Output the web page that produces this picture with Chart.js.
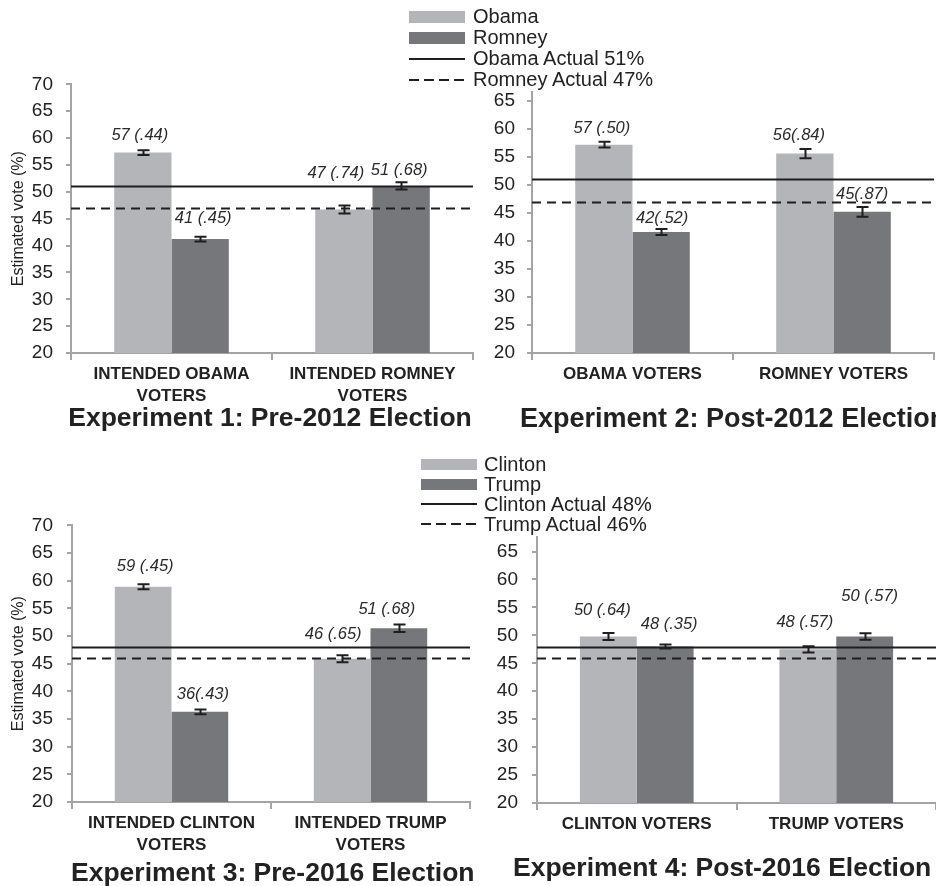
<!DOCTYPE html>
<html>
<head>
<meta charset="utf-8">
<script src="https://cdn.jsdelivr.net/npm/chart.js@4.4.1/dist/chart.umd.min.js"></script>
<style>
  body { margin: 0; background: #fff; }
  #page { position: relative; width: 936px; height: 886px; overflow: hidden;
          font-family: 'Liberation Sans', Arial, sans-serif; color: #222; }
  canvas { position: absolute; }
  .title { position: absolute; font-weight: bold; white-space: nowrap; line-height: 28px; }
  .legend { position: absolute; font-size: 20px; }
  .row { position: relative; white-space: nowrap; }
  .key { position: absolute; left: 0; width: 56px; }
  .row span { position: absolute; }
</style>
</head>
<body>
<div id="page">
  <canvas id="c1" width="480" height="350" style="left:0;top:60px"></canvas>
  <canvas id="c2" width="476" height="350" style="left:460px;top:60px"></canvas>
  <canvas id="c3" width="480" height="358" style="left:0;top:500px"></canvas>
  <canvas id="c4" width="476" height="358" style="left:460px;top:500px"></canvas>

  <div class="title" style="left:68px;width:404px;top:403px;text-align:center;font-size:26.5px">Experiment 1: Pre-2012 Election</div>
  <div class="title" style="left:520px;top:404px;font-size:27px">Experiment 2: Post-2012 Election</div>
  <div class="title" style="left:71px;width:402px;top:858px;text-align:center;font-size:26.5px">Experiment 3: Pre-2016 Election</div>
  <div class="title" style="left:513px;top:853px;font-size:26.5px">Experiment 4: Post-2016 Election</div>

  <div class="legend" id="leg2012" style="left:409px;top:6px"></div>
  <div class="legend" id="leg2016" style="left:421px;top:454px"></div>
</div>
<script>
// candidates and actual results
const names2012 = ['Obama', 'Romney'];
const actual2012 = [51, 47];
const names2016 = ['Clinton', 'Trump'];
const actual2016 = [48, 46];

// Experiment 1: Pre-2012
const exp1Groups = [['INTENDED OBAMA', 'VOTERS'], ['INTENDED ROMNEY', 'VOTERS']];
const exp1Obama = [57.3, 46.7];
const exp1ObamaSE = [0.44, 0.74];
const exp1ObamaText = ['57 (.44)', '47 (.74)'];
const exp1Romney = [41.2, 51.1];
const exp1RomneySE = [0.45, 0.68];
const exp1RomneyText = ['41 (.45)', '51 (.68)'];

// Experiment 2: Post-2012
const exp2Groups = ['OBAMA VOTERS', 'ROMNEY VOTERS'];
const exp2Obama = [57.2, 55.6];
const exp2ObamaSE = [0.50, 0.84];
const exp2ObamaText = ['57 (.50)', '56(.84)'];
const exp2Romney = [41.6, 45.2];
const exp2RomneySE = [0.52, 0.87];
const exp2RomneyText = ['42(.52)', '45(.87)'];

// Experiment 3: Pre-2016
const exp3Groups = [['INTENDED CLINTON', 'VOTERS'], ['INTENDED TRUMP', 'VOTERS']];
const exp3Clinton = [58.9, 45.9];
const exp3ClintonSE = [0.45, 0.65];
const exp3ClintonText = ['59 (.45)', '46 (.65)'];
const exp3Trump = [36.3, 51.4];
const exp3TrumpSE = [0.43, 0.68];
const exp3TrumpText = ['36(.43)', '51 (.68)'];

// Experiment 4: Post-2016
const exp4Groups = ['CLINTON VOTERS', 'TRUMP VOTERS'];
const exp4Clinton = [49.8, 47.5];
const exp4ClintonSE = [0.64, 0.57];
const exp4ClintonText = ['50 (.64)', '48 (.57)'];
const exp4Trump = [48.0, 49.8];
const exp4TrumpSE = [0.35, 0.57];
const exp4TrumpText = ['48 (.35)', '50 (.57)'];

const LIGHT = '#b4b5b9';
const DARK = '#76777b';
const AXIS = '#a4a4a4';
const INK = '#1e1e1e';

Chart.defaults.font.family = "'Liberation Sans', Arial, sans-serif";
Chart.defaults.color = '#222';

// actual-result lines, error bars and value labels
// nudge: per dataset, per bar [dx, gap above error-bar cap]
function overlay(actual, nudge) {
  return {
    id: 'overlay',
    afterDatasetsDraw(chart) {
      const { ctx, chartArea: a } = chart;
      const y = chart.scales.y;
      ctx.save();
      ctx.strokeStyle = INK;
      ctx.lineWidth = 2;
      actual.forEach((v, k) => {
        const py = Math.round(y.getPixelForValue(v)) + 0.5;
        ctx.setLineDash(k ? [9, 6] : []);
        ctx.beginPath();
        ctx.moveTo(a.left, py);
        ctx.lineTo(a.right, py);
        ctx.stroke();
      });
      ctx.setLineDash([]);
      ctx.font = 'italic 16.5px "Liberation Sans", Arial, sans-serif';
      ctx.fillStyle = '#2a2a2a';
      ctx.textAlign = 'center';
      ctx.textBaseline = 'middle';
      chart.data.datasets.forEach((ds, d) => {
        chart.getDatasetMeta(d).data.forEach((bar, i) => {
          const v = ds.data[i], e = ds.se[i];
          const top = y.getPixelForValue(v + e);
          const bot = y.getPixelForValue(v - e);
          const x = Math.round(bar.x) + 0.5;
          ctx.beginPath();
          ctx.moveTo(x, top); ctx.lineTo(x, bot);
          ctx.moveTo(x - 6, top); ctx.lineTo(x + 6, top);
          ctx.moveTo(x - 6, bot); ctx.lineTo(x + 6, bot);
          ctx.stroke();
          const [dx, gap] = nudge[d][i];
          ctx.fillText(ds.valueText[i], bar.x + dx, top - gap);
        });
      });
      ctx.restore();
    }
  };
}

function panel(id, p) {
  new Chart(document.getElementById(id), {
    type: 'bar',
    data: {
      labels: p.groups,
      datasets: [
        { label: p.names[0], data: p.a, se: p.aSE, valueText: p.aText, backgroundColor: LIGHT,
          categoryPercentage: 0.57, barPercentage: 1.0 },
        { label: p.names[1], data: p.b, se: p.bSE, valueText: p.bText, backgroundColor: DARK,
          categoryPercentage: 0.57, barPercentage: 1.0 }
      ]
    },
    options: {
      responsive: false,
      animation: false,
      events: [],
      layout: { padding: { top: p.padTop, right: p.padRight, left: 0, bottom: 0 } },
      plugins: { legend: { display: false }, tooltip: { enabled: false } },
      scales: {
        x: {
          afterFit: s => { s.height = p.xH; },
          grid: { offset: true, drawOnChartArea: false, drawTicks: true, tickLength: 7, color: AXIS, lineWidth: 2 },
          border: { color: AXIS, width: 2 },
          ticks: { font: { size: 17, weight: 'bold', lineHeight: 1.3 }, color: '#222', padding: 3, maxRotation: 0, autoSkip: false }
        },
        y: {
          min: 20,
          max: p.yMax,
          afterFit: s => { s.width = p.yW; },
          grid: { drawOnChartArea: false, drawTicks: true, tickLength: 5, color: AXIS, lineWidth: 2 },
          border: { color: AXIS, width: 2 },
          ticks: { stepSize: 5, includeBounds: false, font: { size: 19 }, color: '#222', padding: p.tickPad },
          title: { display: p.yTitle, text: 'Estimated vote (%)', font: { size: 16 }, color: '#222', padding: { top: 9, bottom: 0 } }
        }
      }
    },
    plugins: [overlay(p.actual, p.nudge)]
  });
}

panel('c1', { groups: exp1Groups, names: names2012, actual: actual2012,
  a: exp1Obama, aSE: exp1ObamaSE, aText: exp1ObamaText,
  b: exp1Romney, bSE: exp1RomneySE, bText: exp1RomneyText,
  nudge: [[[-3, 15], [-8, 32]], [[3, 18], [-2, 12]]],
  yMax: 70, padTop: 13, padRight: 7, xH: 57, yW: 71, tickPad: 13, yTitle: true });

panel('c2', { groups: exp2Groups, names: names2012, actual: actual2012,
  a: exp2Obama, aSE: exp2ObamaSE, aText: exp2ObamaText,
  b: exp2Romney, bSE: exp2RomneySE, bText: exp2RomneyText,
  nudge: [[[-2, 13], [-6, 13]], [[1, 11], [0, 13]]],
  yMax: 66.6, padTop: 32, padRight: 2, xH: 57, yW: 72, tickPad: 12, yTitle: false });

panel('c3', { groups: exp3Groups, names: names2016, actual: actual2016,
  a: exp3Clinton, aSE: exp3ClintonSE, aText: exp3ClintonText,
  b: exp3Trump, bSE: exp3TrumpSE, bText: exp3TrumpText,
  nudge: [[[2, 18], [-9, 21]], [[3, 15], [-12, 15]]],
  yMax: 70, padTop: 24, padRight: 10, xH: 56, yW: 72, tickPad: 14, yTitle: true });

panel('c4', { groups: exp4Groups, names: names2016, actual: actual2016,
  a: exp4Clinton, aSE: exp4ClintonSE, aText: exp4ClintonText,
  b: exp4Trump, bSE: exp4TrumpSE, bText: exp4TrumpText,
  nudge: [[[-6, 22], [-3, 24]], [[4, 20], [5, 37]]],
  yMax: 67.6, padTop: 37, padRight: 0, xH: 55, yW: 77, tickPad: 14, yTitle: false });

// legends
function legend(id, names, actual, rowH, swH, textX) {
  const box = document.getElementById(id);
  const items = [
    { text: names[0], style: `background:${LIGHT};height:${swH}px` },
    { text: names[1], style: `background:${DARK};height:${swH}px` },
    { text: `${names[0]} Actual ${actual[0]}%`, style: `background:${INK};height:2px` },
    { text: `${names[1]} Actual ${actual[1]}%`,
      style: `background:repeating-linear-gradient(90deg, ${INK} 0 10px, transparent 10px 15px);height:2px` }
  ];
  items.forEach(it => {
    const row = document.createElement('div');
    row.className = 'row';
    row.style.height = rowH + 'px';
    row.style.lineHeight = rowH + 'px';
    const key = document.createElement('div');
    key.className = 'key';
    key.setAttribute('style', it.style);
    const h = parseFloat(key.style.height);
    key.style.top = ((rowH - h) / 2) + 'px';
    const label = document.createElement('span');
    label.style.left = textX + 'px';
    label.textContent = it.text;
    row.appendChild(key);
    row.appendChild(label);
    box.appendChild(row);
  });
}
legend('leg2012', names2012, actual2012, 21, 12, 64);
legend('leg2016', names2016, actual2016, 20, 11, 63);
</script>
</body>
</html>
